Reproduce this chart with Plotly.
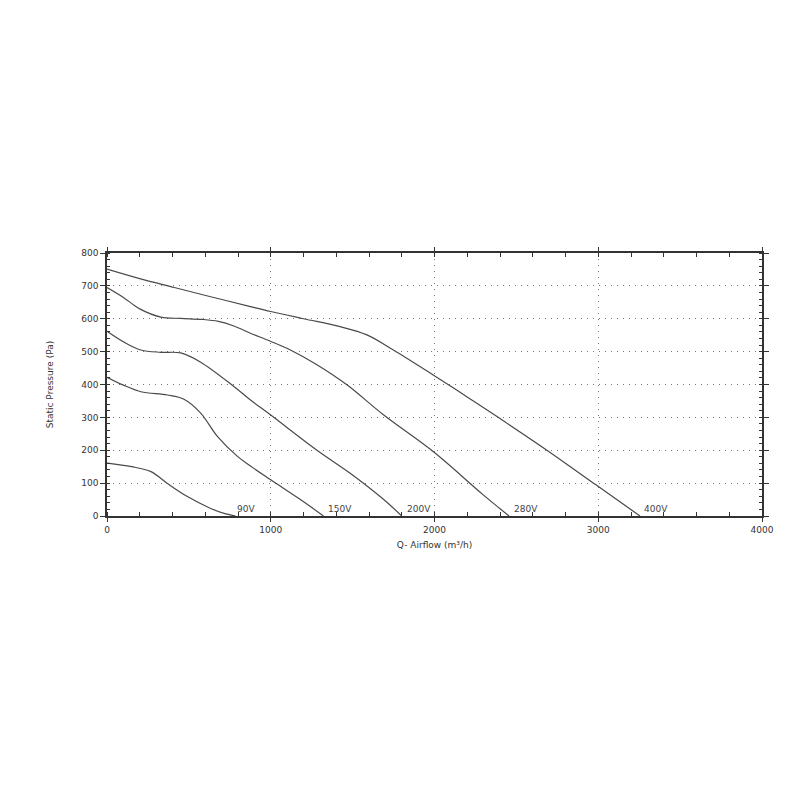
import plotly.graph_objects as go

# fan curves: airflow (m3/h) vs static pressure (Pa)
q_90 = [0, 150, 268, 369, 491, 633, 720, 785]
p_90 = [161, 150, 135, 99, 59, 23, 7, 0]

q_150 = [0, 100, 207, 369, 470, 572, 674, 795, 876, 1000, 1181, 1322]
p_150 = [422, 398, 378, 368, 355, 313, 242, 182, 152, 110, 50, 0]

q_200 = [0, 100, 207, 330, 450, 572, 775, 876, 1000, 1282, 1485, 1690, 1800]
p_200 = [562, 530, 505, 498, 496, 468, 394, 353, 307, 200, 130, 50, 0]

q_280 = [0, 100, 200, 329, 450, 580, 680, 775, 876, 1000, 1120, 1282, 1465, 1688, 1992, 2296, 2455]
p_280 = [695, 665, 630, 605, 601, 598, 592, 578, 556, 531, 505, 460, 399, 308, 196, 65, 0]

q_400 = [0, 200, 411, 633, 876, 1000, 1200, 1424, 1587, 1749, 1992, 2197, 2398, 2684, 2988, 3255]
p_400 = [751, 722, 695, 667, 637, 622, 600, 576, 551, 505, 429, 363, 297, 201, 94, 0]

labels = ["90V", "150V", "200V", "280V", "400V"]
label_q = [848, 1420, 1908, 2561, 3354]

curves = [(q_90, p_90), (q_150, p_150), (q_200, p_200), (q_280, p_280), (q_400, p_400)]

fig = go.Figure()
for (q, p), name in zip(curves, labels):
    fig.add_trace(go.Scatter(
        x=q, y=p, mode='lines', name=name,
        line=dict(color='#4a4a4a', width=1.2, shape='spline', smoothing=1.0),
        showlegend=False
    ))

for name, xq in zip(labels, label_q):
    fig.add_annotation(x=xq, y=0, text=name, showarrow=False,
                       xanchor='center', yanchor='bottom', yshift=0,
                       font=dict(size=9, color='#444'))

axis_font = dict(family='DejaVu Sans', size=9, color='#333')

fig.update_xaxes(
    range=[0, 4000], dtick=1000, tick0=0, automargin=False,
    showline=True, linecolor='#333', linewidth=1.5, mirror='ticks',
    ticks='outside', ticklen=4, tickcolor='#333',
    minor=dict(dtick=200, ticks='inside', ticklen=4, tickcolor='#333', showgrid=False),
    showgrid=True, gridcolor='#777', griddash='1px,5px', gridwidth=1,
    zeroline=False, tickfont=axis_font,
    title=dict(text='Q- Airflow (m³/h)', font=axis_font, standoff=8)
)
fig.update_yaxes(
    range=[0, 800], dtick=100, tick0=0, automargin=False,
    showline=True, linecolor='#333', linewidth=1.5, mirror='ticks',
    ticks='outside', ticklen=5, tickcolor='#333',
    minor=dict(dtick=20, ticks='inside', ticklen=3, tickcolor='#333', showgrid=False),
    showgrid=True, gridcolor='#777', griddash='1px,5px', gridwidth=1,
    zeroline=False, tickfont=axis_font,
    title=dict(text='Static Pressure (Pa)', font=axis_font, standoff=26)
)

fig.update_layout(
    width=800, height=800,
    margin=dict(l=99, r=46, t=245, b=292),
    plot_bgcolor='white', paper_bgcolor='white',
    font=axis_font
)

fig.write_html("out.html")
